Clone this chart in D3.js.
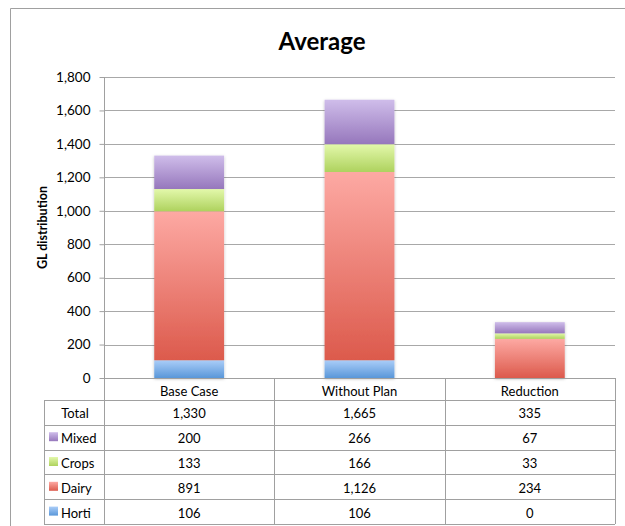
<!DOCTYPE html>
<html>
<head>
<meta charset="utf-8">
<script src="https://cdn.jsdelivr.net/npm/d3@7"></script>
<style>
  body { margin: 0; background: #fff; overflow: hidden; }
  svg { display: block; font-family: Lato, "Open Sans", sans-serif; }
  .grid line { stroke: #a8a8a8; stroke-width: 1; }
  .cell-line { stroke: #a0a0a0; stroke-width: 1; }
  .table-text { font-size: 13px; fill: #000; }
</style>
</head>
<body>
<svg id="chart" width="625" height="526"></svg>
<script>
const categories = ["Base Case", "Without Plan", "Reduction"];
const seriesNames = ["Horti", "Dairy", "Crops", "Mixed"];
const horti = [106, 106, 0];
const dairy = [891, 1126, 234];
const crops = [133, 166, 33];
const mixed = [200, 266, 67];
const totals = ["1,330", "1,665", "335"];
const yTicks = [0, 200, 400, 600, 800, 1000, 1200, 1400, 1600, 1800];

// gradient colours (top, bottom) per series
const colors = {
  Horti: ["#aacdf8", "#5a97d9"],
  Dairy: ["#fda9a3", "#dc5a4c"],
  Crops: ["#e3f8ab", "#aed25e"],
  Mixed: ["#cfbdea", "#9677bc"],
};

const seriesValues = { Horti: horti, Dairy: dairy, Crops: crops, Mixed: mixed };

const svg = d3.select("#chart");
const plotLeft = 104, plotRight = 615, plotTop = 77, plotBottom = 378;

// gradients + shadow
const defs = svg.append("defs");
seriesNames.forEach((name) => {
  const g = defs
    .append("linearGradient")
    .attr("id", `grad-${name}`)
    .attr("x1", 0).attr("y1", 0).attr("x2", 0).attr("y2", 1);
  g.append("stop").attr("offset", "0%").attr("stop-color", colors[name][0]);
  g.append("stop").attr("offset", "100%").attr("stop-color", colors[name][1]);
});
const shadow = defs.append("filter").attr("id", "shadow")
  .attr("x", "-20%").attr("y", "-20%").attr("width", "140%").attr("height", "140%");
shadow.append("feDropShadow")
  .attr("dx", 0).attr("dy", 1).attr("stdDeviation", 1.5)
  .attr("flood-color", "#000").attr("flood-opacity", 0.25);

// outer frame (only top and left edges are visible)
svg.append("path")
  .attr("d", "M10.5,526V8.5H625")
  .attr("fill", "none").attr("stroke", "#a0a0a0");

// title
svg.append("text")
  .attr("x", 322).attr("y", 50)
  .attr("text-anchor", "middle")
  .style("font-size", "24px").style("font-weight", "bold")
  .text("Average");

const x = d3.scaleBand().domain(categories).range([plotLeft, plotRight]).padding(0);
const y = d3.scaleLinear().domain([0, 1800]).range([plotBottom, plotTop]);

// gridlines
svg.append("g").attr("class", "grid")
  .selectAll("line")
  .data(yTicks.filter((d) => d > 0))
  .enter()
  .append("line")
  .attr("x1", plotLeft).attr("x2", plotRight)
  .attr("y1", (d) => Math.round(y(d)) + 0.5)
  .attr("y2", (d) => Math.round(y(d)) + 0.5);

// y axis
const yAxis = d3.axisLeft(y)
  .tickValues(yTicks)
  .tickSize(5)
  .tickPadding(9)
  .tickFormat(d3.format(","));
const yg = svg.append("g").attr("transform", `translate(${plotLeft + 0.5},0)`).call(yAxis);
yg.select(".domain").remove();
yg.selectAll(".tick line").attr("stroke", "#a0a0a0");
yg.selectAll(".tick text")
  .attr("fill", "#000")
  .style("font-family", "Lato, 'Open Sans', sans-serif")
  .style("font-size", "13.5px");

// y axis title
svg.append("text")
  .attr("transform", `translate(47,${(plotTop + plotBottom) / 2}) rotate(-90)`)
  .attr("text-anchor", "middle")
  .style("font-size", "12.5px").style("font-weight", "bold")
  .text("GL distribution");

// stacked bars
const rows = categories.map((c, i) => {
  const r = { category: c };
  seriesNames.forEach((s) => (r[s] = seriesValues[s][i]));
  return r;
});
const stacked = d3.stack().keys(seriesNames)(rows);
const barWidth = x.bandwidth() * 0.41;

svg.append("g").attr("filter", "url(#shadow)")
  .selectAll("g")
  .data(stacked)
  .enter()
  .append("g")
  .attr("fill", (d) => `url(#grad-${d.key})`)
  .selectAll("rect")
  .data((d) => d.filter((p) => p[1] - p[0] > 0))
  .enter()
  .append("rect")
  .attr("x", (d) => x(d.data.category) + (x.bandwidth() - barWidth) / 2)
  .attr("width", barWidth)
  .attr("y", (d) => y(d[1]))
  .attr("height", (d) => y(d[0]) - y(d[1]));

// data table
const headerBottom = 400;
const rowHeight = 24.8;
const tableLeft = 44;
const tableRows = [
  { label: "Total", values: totals, swatch: null },
  ...["Mixed", "Crops", "Dairy", "Horti"].map((s) => ({
    label: s,
    values: seriesValues[s].map(d3.format(",")),
    swatch: s,
  })),
];
const tableBottom = headerBottom + rowHeight * tableRows.length;
const table = svg.append("g");

// axis line / table top
table.append("line").attr("class", "cell-line")
  .attr("x1", plotLeft).attr("x2", plotRight)
  .attr("y1", plotBottom + 0.5).attr("y2", plotBottom + 0.5);
// vertical lines: the left axis runs from the plot top, the others from the axis down
[plotLeft, ...categories.map((c) => x(c) + x.bandwidth())].forEach((vx, i) => {
  table.append("line").attr("class", "cell-line")
    .attr("x1", Math.round(vx) + 0.5).attr("x2", Math.round(vx) + 0.5)
    .attr("y1", i === 0 ? plotTop : plotBottom).attr("y2", tableBottom);
});
table.append("line").attr("class", "cell-line")
  .attr("x1", tableLeft + 0.5).attr("x2", tableLeft + 0.5)
  .attr("y1", headerBottom).attr("y2", tableBottom);
// horizontal row lines
d3.range(tableRows.length + 1).forEach((i) => {
  const ry = Math.round(headerBottom + i * rowHeight) + 0.5;
  table.append("line").attr("class", "cell-line")
    .attr("x1", tableLeft).attr("x2", plotRight)
    .attr("y1", ry).attr("y2", ry);
});

// header labels
table.selectAll(".cat-label")
  .data(categories)
  .enter()
  .append("text")
  .attr("class", "table-text")
  .attr("x", (d) => x(d) + x.bandwidth() / 2)
  .attr("y", plotBottom + 18)
  .attr("text-anchor", "middle")
  .text((d) => d);

tableRows.forEach((row, i) => {
  const cy = headerBottom + i * rowHeight + rowHeight / 2;
  if (row.swatch) {
    table.append("rect")
      .attr("x", 49).attr("y", cy - 5)
      .attr("width", 9).attr("height", 9)
      .attr("fill", `url(#grad-${row.swatch})`);
    table.append("text").attr("class", "table-text")
      .attr("x", 61).attr("y", cy + 6)
      .text(row.label);
  } else {
    table.append("text").attr("class", "table-text")
      .attr("x", 75).attr("y", cy + 6)
      .attr("text-anchor", "middle")
      .text(row.label);
  }
  row.values.forEach((v, j) => {
    table.append("text").attr("class", "table-text")
      .attr("x", x(categories[j]) + x.bandwidth() / 2)
      .attr("y", cy + 6)
      .attr("text-anchor", "middle")
      .text(v);
  });
});
</script>
</body>
</html>
